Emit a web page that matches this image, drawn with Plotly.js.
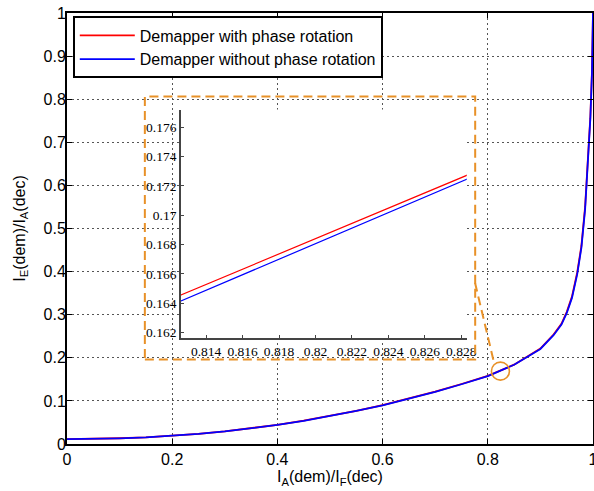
<!DOCTYPE html>
<html>
<head>
<meta charset="utf-8">
<script src="https://cdn.plot.ly/plotly-3.0.1.min.js"></script>
<style>html,body{margin:0;padding:0;background:#fff;}#chart{width:594px;height:491px;}</style>
</head>
<body>
<div id="chart"></div>
<script>
// Data
var xVals = [0, 0.05, 0.1, 0.15, 0.2, 0.25, 0.3, 0.35, 0.4, 0.45, 0.5, 0.55, 0.6, 0.65, 0.7, 0.75, 0.8, 0.85, 0.9, 0.925, 0.94, 0.95, 0.96, 0.97, 0.978, 0.985, 0.991, 0.995, 0.998, 1];
var yRed  = [0.0115, 0.0119, 0.0133, 0.0155, 0.0189, 0.0235, 0.0293, 0.0363, 0.0445, 0.0541, 0.0649, 0.0771, 0.0900, 0.1054, 0.1216, 0.1392, 0.1580, 0.1840, 0.2215, 0.2540, 0.2790, 0.3060, 0.3420, 0.3980, 0.4600, 0.5500, 0.6650, 0.7600, 0.8620, 1.0];
var yBlue = [0.0114, 0.0118, 0.0132, 0.0154, 0.0188, 0.0234, 0.0291, 0.0361, 0.0442, 0.0538, 0.0645, 0.0767, 0.0895, 0.1049, 0.1210, 0.1386, 0.15748, 0.18392, 0.2205, 0.2525, 0.2770, 0.3035, 0.3390, 0.3940, 0.4560, 0.5450, 0.6600, 0.7560, 0.8590, 1.0];
var seriesNames = ['Demapper with phase rotation', 'Demapper without phase rotation'];
var mainXTicks = [0, 0.2, 0.4, 0.6, 0.8, 1];
var mainYTicks = [0, 0.1, 0.2, 0.3, 0.4, 0.5, 0.6, 0.7, 0.8, 0.9, 1];
var insetXRange = [0.8126, 0.8283];
var insetYRange = [0.1616, 0.1772];
var insetXTicks = [0.814, 0.816, 0.818, 0.82, 0.822, 0.824, 0.826, 0.828];
var insetYTicks = [0.162, 0.164, 0.166, 0.168, 0.17, 0.172, 0.174, 0.176];
// zoom markers (main-axis data coordinates)
var zoomBox = {x0: 0.148, x1: 0.776, y0: 0.196, y1: 0.806};
var zoomCircle = {x: 0.824, y: 0.169};
var zoomLink = {x0: 0.7757, y0: 0.374, x1: 0.8118, y1: 0.189};

var orange = 'rgb(232,145,40)';
var traces = [
  {x: xVals, y: yRed, name: seriesNames[0], type: 'scatter', mode: 'lines', line: {color: '#ff0000', width: 1.8}, xaxis: 'x', yaxis: 'y'},
  {x: xVals, y: yBlue, name: seriesNames[1], type: 'scatter', mode: 'lines', line: {color: '#0000ff', width: 1.8}, xaxis: 'x', yaxis: 'y'},
  {x: xVals, y: yRed, showlegend: false, type: 'scatter', mode: 'lines', line: {color: '#ff0000', width: 1.2}, xaxis: 'x2', yaxis: 'y2', hoverinfo: 'skip'},
  {x: xVals, y: yBlue, showlegend: false, type: 'scatter', mode: 'lines', line: {color: '#0000ff', width: 1.2}, xaxis: 'x2', yaxis: 'y2', hoverinfo: 'skip'}
];

var mainFont = {family: 'Liberation Sans, Arial, sans-serif', size: 16, color: '#000'};
var legendFont = {family: 'Liberation Sans, Arial, sans-serif', size: 16, color: '#000'};
var serifFont = {family: 'Liberation Serif, Times New Roman, serif', size: 13.5, color: '#000'};

var layout = {
  width: 594, height: 491,
  margin: {l: 67, r: 1, t: 13, b: 47, pad: 0},
  paper_bgcolor: '#fff', plot_bgcolor: '#fff',
  font: mainFont,
  showlegend: true,
  legend: {x: 0.011, y: 0.992, xanchor: 'left', yanchor: 'top', bgcolor: '#fff', bordercolor: '#000', borderwidth: 2, font: legendFont, tracegroupgap: 0, itemwidth: 55},
  xaxis: {
    domain: [0, 1], range: [0, 1], tickvals: mainXTicks, ticktext: mainXTicks.map(String),
    showline: true, linecolor: '#000', linewidth: 2, mirror: 'ticks',
    ticks: 'inside', ticklen: 5, tickcolor: '#000', tickwidth: 1,
    showgrid: true, gridcolor: '#555', griddash: '2px,3px', gridwidth: 1, zeroline: false,
    tickfont: mainFont, ticklabeloverflow: 'allow',
    title: {text: 'I<sub>A</sub>(dem)/I<sub>F</sub>(dec)', font: mainFont, standoff: 2}
  },
  yaxis: {
    domain: [0, 1], range: [0, 1], tickvals: mainYTicks, ticktext: mainYTicks.map(String),
    showline: true, linecolor: '#000', linewidth: 2, mirror: 'ticks',
    ticks: 'inside', ticklen: 5, tickcolor: '#000', tickwidth: 1,
    showgrid: true, gridcolor: '#555', griddash: '2px,3px', gridwidth: 1, zeroline: false,
    tickfont: mainFont, ticklabeloverflow: 'allow', ticklabelstandoff: -4,
    title: {text: 'I<sub>E</sub>(dem)/I<sub>A</sub>(dec)', font: mainFont, standoff: 14}
  },
  xaxis2: {
    domain: [0.216, 0.760], anchor: 'y2', range: insetXRange, tickvals: insetXTicks, ticktext: insetXTicks.map(String),
    showline: true, linecolor: '#444', linewidth: 1.5, mirror: false,
    ticks: 'inside', ticklen: 3, tickcolor: '#444', tickwidth: 1,
    showgrid: false, zeroline: false, tickfont: serifFont
  },
  yaxis2: {
    domain: [0.245, 0.776], anchor: 'x2', range: insetYRange, tickvals: insetYTicks, ticktext: insetYTicks.map(String),
    showline: true, linecolor: '#444', linewidth: 1.5, mirror: false,
    ticks: 'inside', ticklen: 3, tickcolor: '#444', tickwidth: 1,
    showgrid: false, zeroline: false, tickfont: serifFont
  },
  shapes: [
    {type: 'rect', xref: 'x', yref: 'y', x0: zoomBox.x0, x1: zoomBox.x1, y0: zoomBox.y0, y1: zoomBox.y1,
     line: {color: orange, width: 2, dash: '9px,5px'}, fillcolor: 'rgba(0,0,0,0)'},
    {type: 'line', xref: 'x', yref: 'y', x0: zoomLink.x0, y0: zoomLink.y0, x1: zoomLink.x1, y1: zoomLink.y1,
     line: {color: orange, width: 2, dash: '9px,5px'}},
    {type: 'circle', xref: 'x', yref: 'y', xsizemode: 'pixel', ysizemode: 'pixel',
     xanchor: zoomCircle.x, yanchor: zoomCircle.y, x0: -9, x1: 9, y0: -9, y1: 9,
     line: {color: orange, width: 1.6}, fillcolor: 'rgba(0,0,0,0)'}
  ]
};

Plotly.newPlot('chart', traces, layout, {displayModeBar: false, staticPlot: true});
</script>
</body>
</html>
